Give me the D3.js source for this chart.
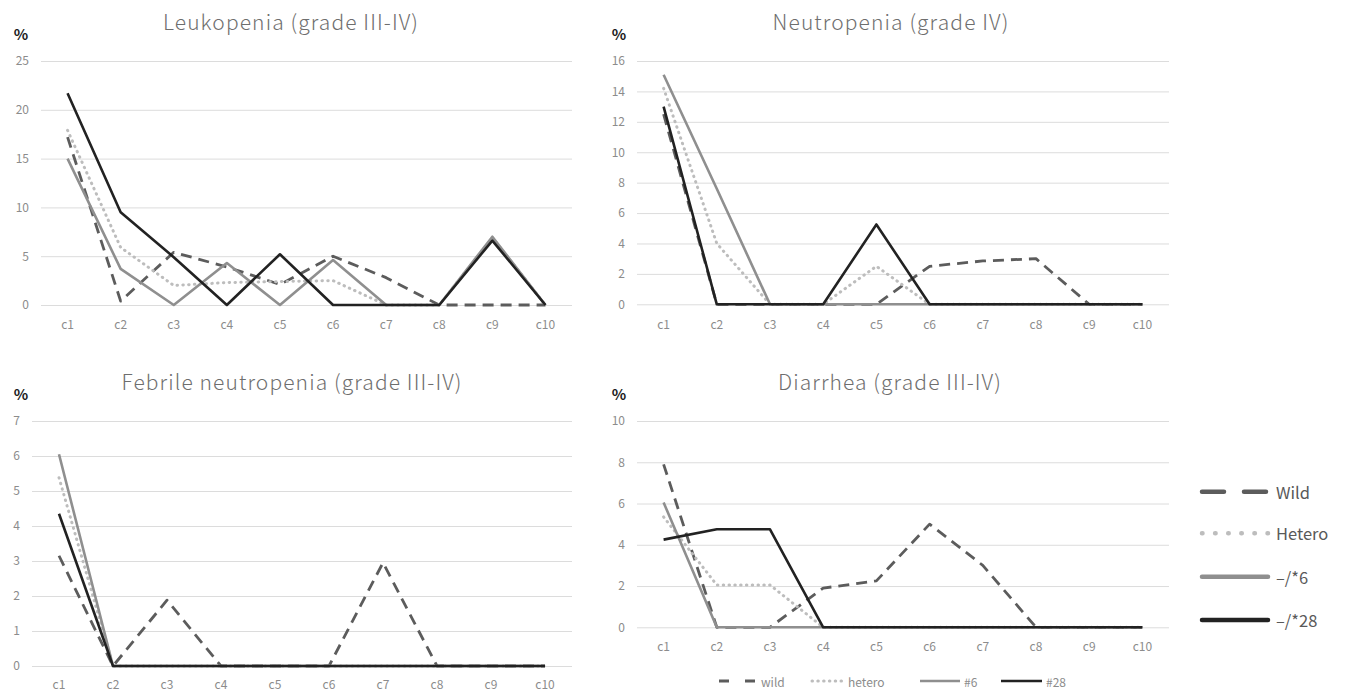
<!DOCTYPE html>
<html>
<head>
<meta charset="utf-8">
<script src="https://cdn.jsdelivr.net/npm/d3@7"></script>
<style>
  html, body { margin: 0; padding: 0; background: #ffffff; }
  svg { display: block; }
  text { font-family: "Noto Sans CJK JP", "Noto Sans", sans-serif; }
</style>
</head>
<body>
<svg id="chart" width="1352" height="691"></svg>
<script>
// ---------- data ----------
const cycles = ["c1", "c2", "c3", "c4", "c5", "c6", "c7", "c8", "c9", "c10"];
const seriesNames = ["wild", "hetero", "#6", "#28"];
const legendLabels = ["Wild", "Hetero", "\u2013/*6", "\u2013/*28"];

const leukoTitle = "Leukopenia (grade III-IV)";
const leukoTicks = [0, 5, 10, 15, 20, 25];
const leukoWild   = [17.2, 0.4, 5.4, 3.9, 2.1, 5.0, 2.8, 0, 0, 0];
const leukoHetero = [17.9, 5.9, 2.0, 2.3, 2.4, 2.5, 0, 0, 6.9, 0];
const leuko6      = [15.0, 3.7, 0, 4.3, 0, 4.6, 0, 0, 7.0, 0];
const leuko28     = [21.7, 9.5, 4.9, 0, 5.2, 0, 0, 0, 6.6, 0];

const neutroTitle = "Neutropenia (grade IV)";
const neutroTicks = [0, 2, 4, 6, 8, 10, 12, 14, 16];
const neutroWild   = [12.5, 0, 0, 0, 0, 2.5, 2.85, 3.0, 0, 0];
const neutroHetero = [14.2, 4.0, 0, 0, 2.5, 0, 0, 0, 0, 0];
const neutro6      = [15.1, 7.6, 0, 0, 0, 0, 0, 0, 0, 0];
const neutro28     = [13.0, 0, 0, 0, 5.25, 0, 0, 0, 0, 0];

const febTitle = "Febrile neutropenia (grade III-IV)";
const febTicks = [0, 1, 2, 3, 4, 5, 6, 7];
const febWild   = [3.15, 0, 1.88, 0, 0, 0, 2.95, 0, 0, 0];
const febHetero = [5.38, 0, 0, 0, 0, 0, 0, 0, 0, 0];
const feb6      = [6.05, 0, 0, 0, 0, 0, 0, 0, 0, 0];
const feb28     = [4.35, 0, 0, 0, 0, 0, 0, 0, 0, 0];

const diaTitle = "Diarrhea (grade III-IV)";
const diaTicks = [0, 2, 4, 6, 8, 10];
const diaWild   = [7.9, 0, 0, 1.9, 2.25, 5.0, 3.0, 0, 0, 0];
const diaHetero = [5.35, 2.05, 2.05, 0, 0, 0, 0, 0, 0, 0];
const dia6      = [6.05, 0, 0, 0, 0, 0, 0, 0, 0, 0];
const dia28     = [4.25, 4.75, 4.75, 0, 0, 0, 0, 0, 0, 0];

// ---------- styles ----------
const styles = {
  "wild":   { color: "#5c5c5c", width: 2.8, dash: "11,7", cap: "butt" },
  "hetero": { color: "#bdbdbd", width: 3, dash: "0.5,5.3", cap: "round" },
  "#6":     { color: "#8f8f8f", width: 2.6, dash: null, cap: "butt" },
  "#28":    { color: "#222222", width: 2.6, dash: null, cap: "butt" }
};

const svg = d3.select("#chart");

const panels = [
  { title: leukoTitle, ticks: leukoTicks, data: [leukoWild, leukoHetero, leuko6, leuko28],
    x0: 41, x1: 572, y0: 305, y1: 61, titleX: 291, titleY: 21, pctX: 21, pctY: 33, xLabY: 325 },
  { title: neutroTitle, ticks: neutroTicks, data: [neutroWild, neutroHetero, neutro6, neutro28],
    x0: 637, x1: 1169, y0: 304.3, y1: 61, titleX: 891, titleY: 21, pctX: 619, pctY: 33, xLabY: 325 },
  { title: febTitle, ticks: febTicks, data: [febWild, febHetero, feb6, feb28],
    x0: 32, x1: 572, y0: 666, y1: 421, titleX: 292, titleY: 381, pctX: 21, pctY: 393, xLabY: 685 },
  { title: diaTitle, ticks: diaTicks, data: [diaWild, diaHetero, dia6, dia28],
    x0: 637, x1: 1169, y0: 627.3, y1: 421, titleX: 890, titleY: 381, pctX: 619, pctY: 393, xLabY: 647 }
];

panels.forEach(p => {
  const g = svg.append("g");
  const x = d3.scaleBand().domain(cycles).range([p.x0, p.x1]).padding(0);
  const y = d3.scaleLinear().domain([0, d3.max(p.ticks)]).range([p.y0, p.y1]);

  // gridlines + y tick labels
  const yAxis = g.append("g")
    .attr("transform", `translate(${p.x0},0)`)
    .call(d3.axisLeft(y).tickValues(p.ticks).tickSize(-(p.x1 - p.x0)).tickPadding(12).tickFormat(d3.format("d")));
  yAxis.select(".domain").remove();
  yAxis.selectAll(".tick line").attr("stroke", "#dcdcdc").attr("stroke-width", 1);
  yAxis.selectAll(".tick text").attr("fill", "#8c8c8c").attr("font-size", 12)
    .style("font-family", "'Noto Sans CJK JP', sans-serif");

  // x tick labels
  const xAxis = g.append("g")
    .attr("transform", `translate(0,${p.xLabY})`)
    .call(d3.axisBottom(x).tickSize(0).tickPadding(0));
  xAxis.select(".domain").remove();
  xAxis.selectAll(".tick text").attr("fill", "#8c8c8c").attr("font-size", 12)
    .attr("dy", "0.32em")
    .style("font-family", "'Noto Sans CJK JP', sans-serif");

  // lines
  const line = d3.line()
    .x((d, i) => x(cycles[i]) + x.bandwidth() / 2)
    .y(d => y(d));
  seriesNames.forEach((name, si) => {
    const st = styles[name];
    g.append("path")
      .datum(p.data[si])
      .attr("d", line)
      .attr("fill", "none")
      .attr("stroke", st.color)
      .attr("stroke-width", st.width)
      .attr("stroke-linejoin", "round")
      .attr("stroke-linecap", st.cap)
      .attr("stroke-dasharray", st.dash);
  });

  // title
  g.append("text")
    .attr("x", p.titleX).attr("y", p.titleY)
    .attr("text-anchor", "middle").attr("dominant-baseline", "central")
    .attr("font-size", 21).attr("fill", "#6e6e6e").attr("font-weight", 300)
    .attr("letter-spacing", 1.1)
    .text(p.title);

  // percent label
  g.append("text")
    .attr("x", p.pctX).attr("y", p.pctY)
    .attr("text-anchor", "middle").attr("dominant-baseline", "central")
    .attr("font-size", 15).attr("fill", "#222").attr("font-weight", 700)
    .text("%");
});

// ---------- bottom legend (in diarrhea panel) ----------
const bottomLegend = svg.append("g");
const bItems = [
  { name: "wild", x: 719, len: 38 },
  { name: "hetero", x: 812, len: 32 },
  { name: "#6", x: 920, len: 40 },
  { name: "#28", x: 1001, len: 41 }
];
const by = 681;
bItems.forEach(it => {
  const st = styles[it.name];
  bottomLegend.append("line")
    .attr("x1", it.x).attr("x2", it.x + it.len).attr("y1", by).attr("y2", by)
    .attr("stroke", st.color).attr("stroke-width", st.width)
    .attr("stroke-linecap", st.cap)
    .attr("stroke-dasharray", it.name === "wild" ? "10,16" : st.dash);
  bottomLegend.append("text")
    .attr("x", it.x + it.len + 4).attr("y", by)
    .attr("dominant-baseline", "central")
    .attr("font-size", 12).attr("fill", "#8c8c8c")
    .text(it.name);
});

// ---------- right legend ----------
const rightLegend = svg.append("g");
const rRows = [491.7, 533.3, 576.7, 620];
seriesNames.forEach((name, i) => {
  const st = styles[name];
  const yy = rRows[i];
  const ln = rightLegend.append("line")
    .attr("x1", 1202).attr("x2", 1268).attr("y1", yy).attr("y2", yy)
    .attr("stroke", st.color)
    .attr("stroke-width", 4.5)
    .attr("stroke-linecap", "round");
  if (name === "wild") ln.attr("stroke-dasharray", "22,20");
  if (name === "hetero") ln.attr("stroke-dasharray", "0.5,12.6");
  rightLegend.append("text")
    .attr("x", 1276).attr("y", yy)
    .attr("dominant-baseline", "central")
    .attr("font-size", 16.5).attr("fill", "#595959")
    .text(legendLabels[i]);
});
</script>
</body>
</html>
